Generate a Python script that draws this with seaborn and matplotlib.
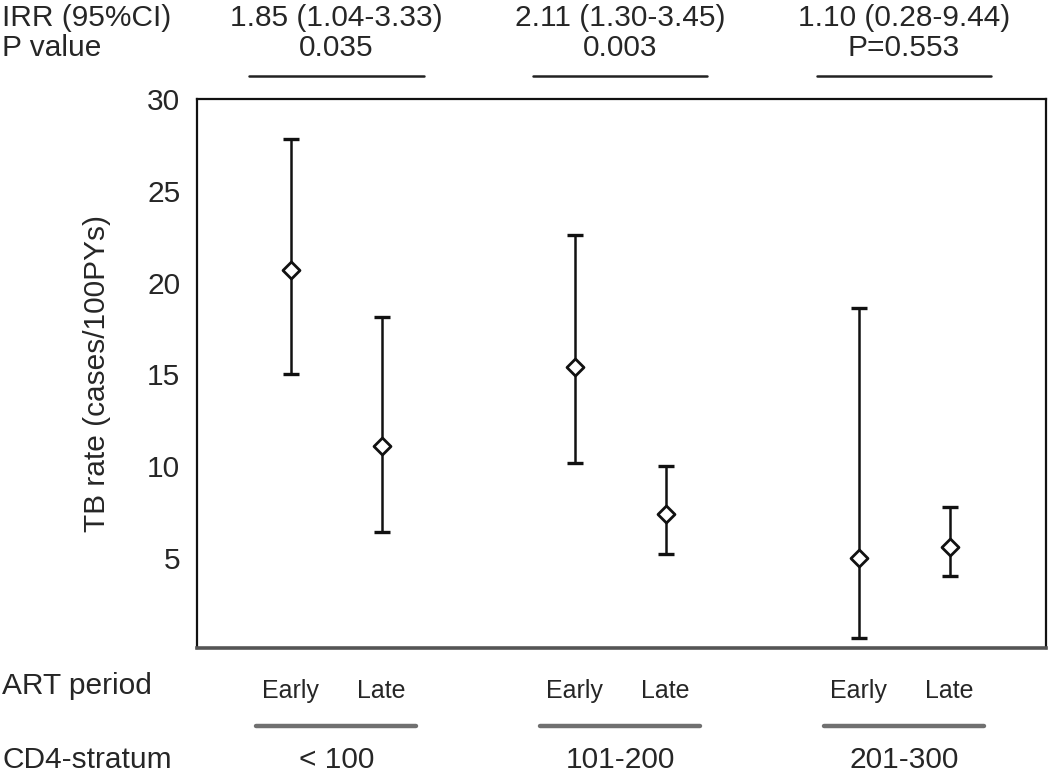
import matplotlib
matplotlib.use("Agg")
import matplotlib.pyplot as plt
import matplotlib.transforms as mtransforms
import pandas as pd
import seaborn as sns

# values
strata = ["< 100", "101-200", "201-300"]
periods = ["Early", "Late"]
irr_text = ["1.85 (1.04-3.33)", "2.11 (1.30-3.45)", "1.10 (0.28-9.44)"]
p_text = ["0.035", "0.003", "P=0.553"]
rate = [20.7, 11.1, 15.4, 7.4, 5.0, 5.6]
lower = [15.0, 6.4, 10.2, 5.2, 0.65, 4.0]
upper = [27.8, 18.1, 22.6, 10.0, 18.6, 7.8]

# build long table, x position = stratum offset + period
gap = 3.12
rows = []
i = 0
for g, s in enumerate(strata):
    for p, per in enumerate(periods):
        rows.append({"stratum": s, "period": per, "x": g * gap + p,
                     "rate": rate[i], "lo": lower[i], "hi": upper[i]})
        i += 1
df = pd.DataFrame(rows)

sns.set_style("white")
plt.rcParams["font.family"] = ["Liberation Sans", "DejaVu Sans"]
fs = 21.5

W, H = 1050, 774
fig = plt.figure(figsize=(W / 100, H / 100), dpi=100)
ax = fig.add_axes([197 / W, 1 - 648 / H, (1046 - 197) / W, (648 - 99) / H])

# confidence intervals
ax.errorbar(df["x"], df["rate"],
            yerr=[df["rate"] - df["lo"], df["hi"] - df["rate"]],
            fmt="none", ecolor="#111111", elinewidth=1.8,
            capsize=6, capthick=2.4, zorder=2)
# point estimates
sns.scatterplot(data=df, x="x", y="rate", marker="D", s=75, color="white",
                edgecolor="#111111", linewidth=2.0, zorder=3, ax=ax, legend=False)

ax.set_xlim(-1.03, 8.30)
ax.set_ylim(0.1, 30)
ax.set_yticks([5, 10, 15, 20, 25, 30])
ax.set_xticks(df["x"])
ax.set_xticklabels(df["period"], fontsize=18)
ax.tick_params(axis="x", length=11, width=1.4, color="#333333", pad=11)
ax.tick_params(axis="y", length=5, width=1.4, color="#333333", pad=7, labelsize=fs)
ax.set_xlabel("")
ax.set_ylabel("TB rate (cases/100PYs)", fontsize=fs, labelpad=26)

for side in ["top", "right", "left"]:
    ax.spines[side].set_color("#111111")
    ax.spines[side].set_linewidth(1.6)
ax.spines["bottom"].set_color("#555555")
ax.spines["bottom"].set_linewidth(2.6)

blend = mtransforms.blended_transform_factory(ax.transData, fig.transFigure)

def fy(py):
    return 1 - py / H

# row labels on the left
fig.text(2 / W, fy(18), "IRR (95%CI)", fontsize=fs, va="center", ha="left")
fig.text(2 / W, fy(48), "P value", fontsize=fs, va="center", ha="left")
fig.text(2 / W, fy(686), "ART period", fontsize=fs, va="center", ha="left")
fig.text(2 / W, fy(760), "CD4-stratum", fontsize=fs, va="center", ha="left")

for g, s in enumerate(strata):
    c = g * gap + 0.5
    ax.text(c, fy(18), irr_text[g], transform=blend, fontsize=fs, ha="center", va="center")
    ax.text(c, fy(48), p_text[g], transform=blend, fontsize=fs, ha="center", va="center")
    ax.plot([c - 0.96, c + 0.96], [fy(76), fy(76)], transform=blend,
            color="#222222", lw=1.8, clip_on=False)
    ax.plot([c - 0.88, c + 0.88], [fy(726), fy(726)], transform=blend,
            color="#707070", lw=3.2, clip_on=False)
    ax.text(c, fy(760), s, transform=blend, fontsize=fs, ha="center", va="center")

fig.savefig("out.png", dpi=100)
